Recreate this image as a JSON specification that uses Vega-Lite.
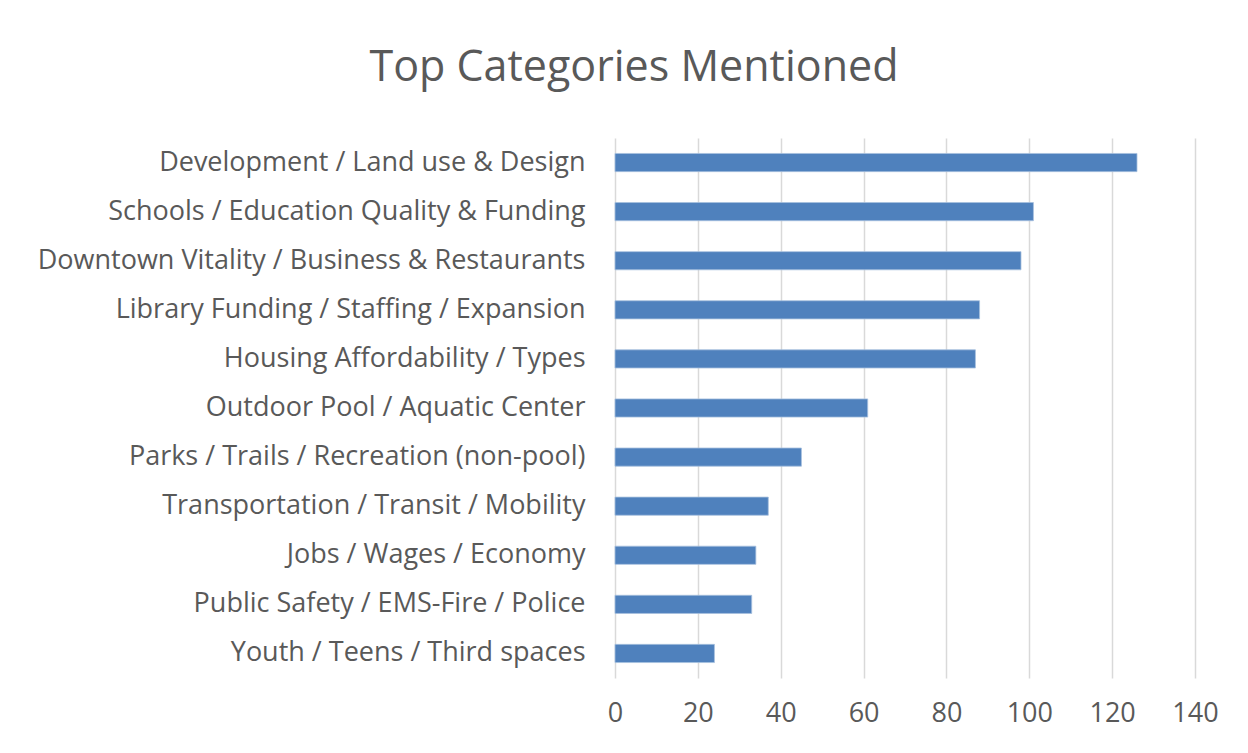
{
  "$schema": "https://vega.github.io/schema/vega-lite/v6.json",
  "width": 580,
  "height": 540,
  "autosize": "none",
  "padding": {"left": 615, "top": 138, "right": 53, "bottom": 75},
  "background": "white",
  "title": {
    "text": "Top Categories Mentioned",
    "font": "Open Sans",
    "fontSize": 43,
    "fontWeight": "normal",
    "color": "#595959",
    "anchor": "middle",
    "dx": -271,
    "offset": 48
  },
  "data": {
    "values": [
      {"category": "Development / Land use & Design", "count": 126},
      {"category": "Schools / Education Quality & Funding", "count": 101},
      {"category": "Downtown Vitality / Business & Restaurants", "count": 98},
      {"category": "Library Funding / Staffing / Expansion", "count": 88},
      {"category": "Housing Affordability / Types", "count": 87},
      {"category": "Outdoor Pool / Aquatic Center", "count": 61},
      {"category": "Parks / Trails / Recreation (non-pool)", "count": 45},
      {"category": "Transportation / Transit / Mobility", "count": 37},
      {"category": "Jobs / Wages / Economy", "count": 34},
      {"category": "Public Safety / EMS-Fire / Police", "count": 33},
      {"category": "Youth / Teens / Third spaces", "count": 24}
    ]
  },
  "mark": {"type": "bar", "color": "#4F81BD", "stroke": "#A7C0DE", "strokeWidth": 0.8},
  "encoding": {
    "y": {
      "field": "category",
      "type": "nominal",
      "sort": null,
      "title": null,
      "scale": {"paddingInner": 0.63, "paddingOuter": 0.315},
      "axis": {
        "domain": false,
        "ticks": false,
        "grid": false,
        "labelFont": "Open Sans",
        "labelFontSize": 27,
        "labelColor": "#595959",
        "labelPadding": 30,
        "labelLimit": 0
      }
    },
    "x": {
      "field": "count",
      "type": "quantitative",
      "title": null,
      "scale": {"domain": [0, 140], "nice": false},
      "axis": {
        "values": [0, 20, 40, 60, 80, 100, 120, 140],
        "domain": false,
        "ticks": false,
        "grid": true,
        "gridColor": "#D9D9D9",
        "gridWidth": 1.5,
        "labelFont": "Open Sans",
        "labelFontSize": 27,
        "labelColor": "#595959",
        "labelPadding": 22,
        "labelFlush": false
      }
    }
  },
  "config": {"view": {"stroke": null}}
}
